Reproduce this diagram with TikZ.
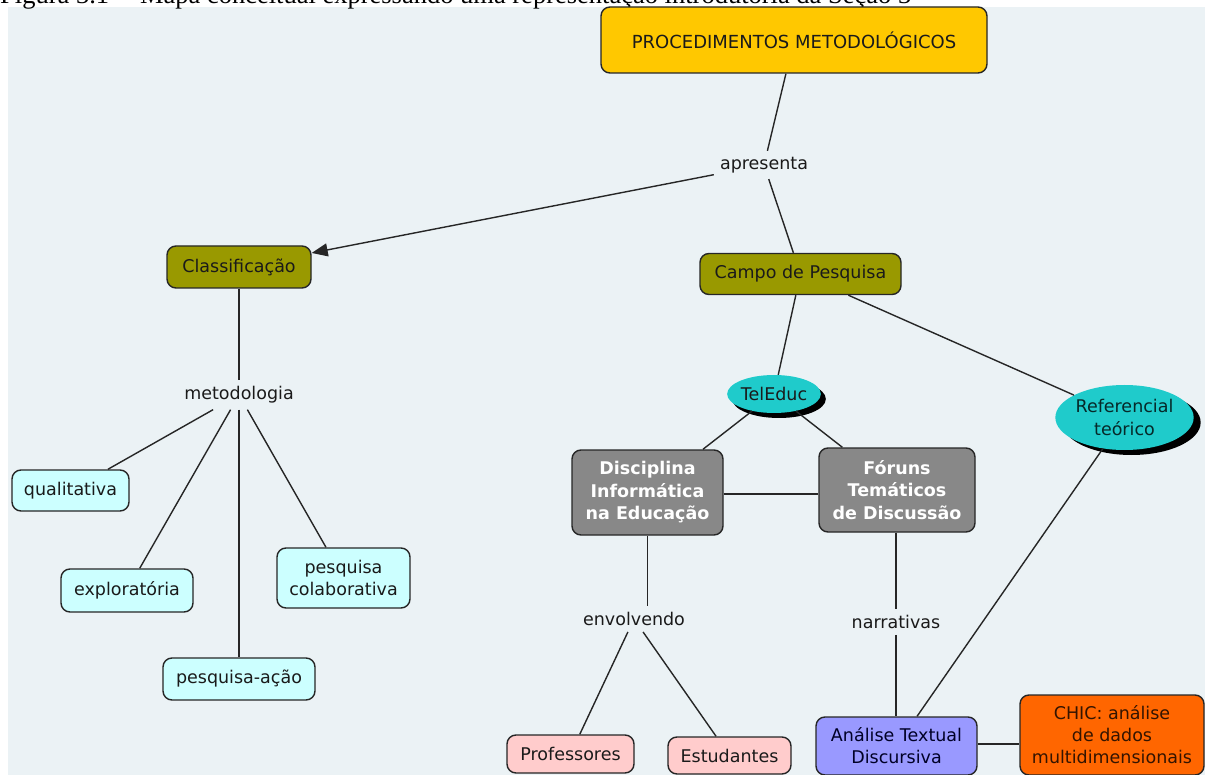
\documentclass[tikz,border=0pt]{standalone}
\usepackage{fontspec}
\setmainfont{DejaVu Sans}
\newfontfamily\capfont{Liberation Serif}
\usetikzlibrary{shapes.geometric,arrows.meta,shadows}

\definecolor{panel}{HTML}{EBF2F5}
\definecolor{edge}{HTML}{262626}
\definecolor{gold}{HTML}{FFC800}
\definecolor{olive}{HTML}{999900}
\definecolor{paleCyan}{HTML}{CCFFFF}
\definecolor{teal}{HTML}{1FCBCB}
\definecolor{slate}{HTML}{888888}
\definecolor{rose}{HTML}{FFCCCC}
\definecolor{lavender}{HTML}{9999FF}
\definecolor{tangerine}{HTML}{FF6600}
\definecolor{ink}{HTML}{1A1A1A}

\tikzset{
  concept/.style={draw=edge, line width=1.4pt, rounded corners=9pt, align=center,
    inner sep=0pt, text=ink, font=\fontsize{17.5}{22}\selectfont},
  leaf/.style={concept, fill=paleCyan},
  person/.style={concept, fill=rose},
  greybox/.style={concept, fill=slate, text=white, font=\fontsize{17.5}{22.5}\selectfont\bfseries},
  oval/.style={ellipse, fill=teal, inner sep=0pt, align=center, text=ink,
    font=\fontsize{17.5}{22.5}\selectfont},
  linkword/.style={inner sep=6pt, text=ink, font=\fontsize{17.5}{22}\selectfont},
  wire/.style={draw=edge, line width=1.4pt},
}

\begin{document}
\begin{tikzpicture}[x=1pt, y=-1pt]
  \path[use as bounding box] (0,0) rectangle (1205,775);
  \clip (0,0) rectangle (1205,775);
  \fill[white] (0,0) rectangle (1205,775);
  \fill[panel] (8,7) rectangle (1205,775);

  % caption line of the page, mostly cut at the top edge
  \node[anchor=base west, inner sep=0pt, font=\capfont\fontsize{26.5}{30}\selectfont]
    (caption) at (0,4) {Figura 3.1 -- Mapa conceitual expressando uma representação introdutória da Seção 3};

  % concepts
  \node[concept, fill=gold, minimum width=386pt, minimum height=66pt,
        font=\fontsize{18}{22}\selectfont] (proc) at (794,40) {PROCEDIMENTOS METODOLÓGICOS};
  \node[concept, fill=olive, minimum width=144pt, minimum height=42pt] (class) at (239,267) {Classificação};
  \node[concept, fill=olive, minimum width=201pt, minimum height=41pt] (campo) at (800.5,274) {Campo de Pesquisa};

  \node[leaf, minimum width=117pt, minimum height=41pt] (quali) at (70.5,490.5) {qualitativa};
  \node[leaf, minimum width=132pt, minimum height=43pt] (explo) at (127,590.5) {exploratória};
  \node[leaf, minimum width=133pt, minimum height=60pt] (colab) at (343.5,578) {pesquisa\\colaborativa};
  \node[leaf, minimum width=152pt, minimum height=42pt] (acao) at (239,679) {pesquisa-ação};

  \node[oval, minimum width=82pt, minimum height=38pt,
        drop shadow={shadow xshift=5pt, shadow yshift=-5pt, fill=black, opacity=1}]
        (teleduc) at (774,394) {TelEduc};
  \node[oval, minimum width=127pt, minimum height=65pt, text=black!80!teal,
        drop shadow={shadow xshift=7pt, shadow yshift=-5pt, fill=black, opacity=1}]
        (refer) at (1124.5,417.5) {Referencial\\teórico};

  \node[greybox, minimum width=151pt, minimum height=85pt] (disc) at (647.5,492.5) {Disciplina\\Informática\\na Educação};
  \node[greybox, minimum width=156pt, minimum height=84pt] (forum) at (897,490) {Fóruns\\Temáticos\\de Discussão};

  \node[person, minimum width=127pt, minimum height=38pt] (prof) at (570.5,754) {Professores};
  \node[person, minimum width=123pt, minimum height=37pt] (estud) at (729.5,755.5) {Estudantes};

  \node[concept, fill=lavender, text=black!85!blue, minimum width=161pt, minimum height=58pt]
    (atd) at (896.5,746) {Análise Textual\\Discursiva};
  \node[concept, fill=tangerine, text=black!80!tangerine, minimum width=184pt, minimum height=80pt]
    (chic) at (1112,735) {CHIC: análise\\de dados\\multidimensionais};

  % linking words
  \node[linkword] (apres) at (764,165) {apresenta};
  \node[linkword] (metod) at (239,395) {metodologia};
  \node[linkword] (envol) at (634,619) {envolvendo};
  \node[linkword] (narr) at (896,622) {narrativas};

  % connectors
  \draw[wire] (proc) -- (apres);
  \draw[wire, -{Triangle[length=16pt,width=13pt]}] (apres) -- (class);
  \draw[wire] (apres) -- (campo);
  \draw[wire] (class) -- (metod);
  \draw[wire] (metod) -- (quali);
  \draw[wire] (metod) -- (explo);
  \draw[wire] (metod) -- (acao);
  \draw[wire] (metod) -- (colab);
  \draw[wire] (campo) -- (teleduc);
  \draw[wire] (campo) -- (refer);
  \draw[wire] (teleduc) -- (disc);
  \draw[wire] (teleduc) -- (forum);
  \draw[wire] ([yshift=-1.5pt]disc.east) -- ([yshift=-1.5pt]forum.west |- disc.east);
  \draw[wire] (disc.south) -- (disc.south |- envol.north);
  \draw[wire] (envol) -- (prof);
  \draw[wire] (envol) -- (estud);
  \draw[wire] (forum.south -| narr) -- (narr.north);
  \draw[wire] (narr.south) -- (narr.south |- atd.north);
  \draw[wire] (refer) -- (atd);
  \draw[wire] ([yshift=2pt]atd.east) -- ([yshift=2pt]chic.west |- atd.east);
\end{tikzpicture}
\end{document}
